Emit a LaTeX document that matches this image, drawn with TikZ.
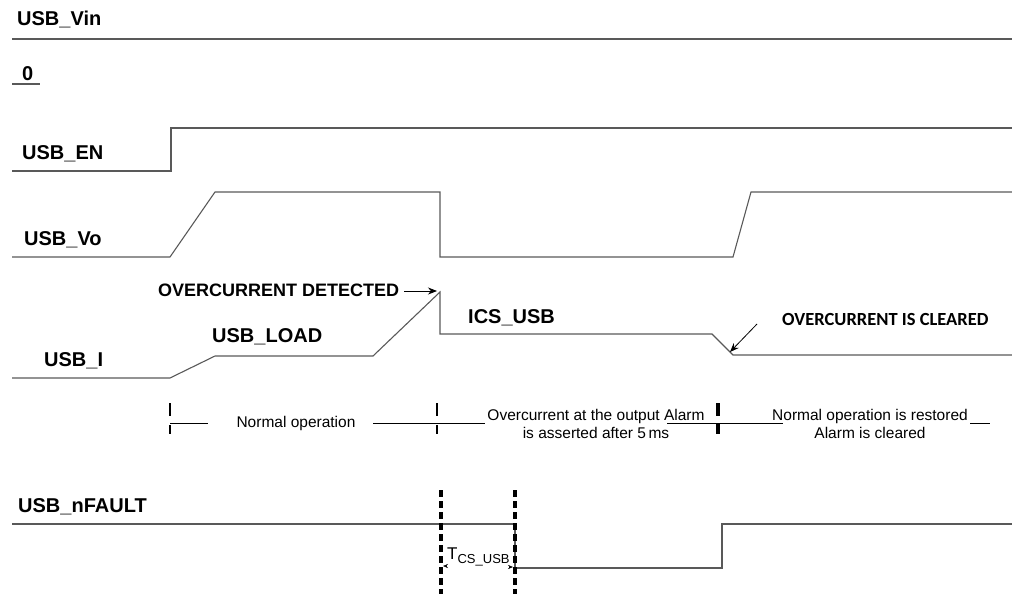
\documentclass[tikz,border=0pt]{standalone}
\usepackage{fontspec}
\usetikzlibrary{arrows.meta}
\setmainfont{Liberation Sans}
\newfontfamily\calibri{Carlito}
\begin{document}
\begin{tikzpicture}[x=1pt,y=-1pt,
  sig/.style={draw=black!65, line width=1.1pt},
  lbl/.style={font=\fontsize{20}{22}\selectfont\bfseries, anchor=base west, inner sep=0pt},
  note/.style={font=\fontsize{15.5}{18}\selectfont, align=center, inner sep=0pt},
  tick/.style={draw=black, line width=2pt},
  pointer/.style={-{Stealth[length=9pt,width=7pt]}, line width=0.8pt},
  gap/.style={dashed, line width=3.5pt, dash pattern=on 7pt off 4pt},
  every node/.style={align=center}]
  \useasboundingbox (0,0) rectangle (1012,594);
  % labels
  \node[lbl] (vin) at (17,26){USB\_Vin};
  \node[lbl] (zero) at (22,81){0};
  \node[lbl] (en) at (22,159){USB\_EN};
  \node[lbl] (vo) at (24,245){USB\_Vo};
  \node[lbl] (iusb) at (44,366){USB\_I};
  \node[lbl] (load) at (212,342){USB\_LOAD};
  \node[lbl] (ics) at (468,323){ICS\_USB};
  \node[lbl, font=\fontsize{18}{20}\selectfont\bfseries] (ocdet) at (158,296){OVERCURRENT DETECTED};
  \node[lbl, font=\fontsize{18.5}{20}\selectfont\bfseries\calibri] (occlr) at (782,325){OVERCURRENT IS CLEARED};
  \node[lbl] (nfault) at (18,512){USB\_nFAULT};
  % waveforms
  \draw[sig] (12,39) -- (1012,39);
  \draw[sig] (12,84) -- (40,84);
  \draw[sig] (12,171) -- (171,171) -- (171,128) -- (1012,128);
  \draw[sig] (12,257) -- (170,257) -- (215,192) -- (440,192) -- (440,257)
    -- (733,257) -- (751,192) -- (1012,192);
  \coordinate (peak) at (440,292);
  \coordinate (clr) at (733,355);
  \draw[sig] (12,378) -- (170,378) -- (215,356) -- (373,356) -- (peak)
    -- (440,334) -- (712,334) -- (clr) -- (1012,355);
  \draw[sig] (12,524) -- (515,524) -- (515,568) -- (722,568) -- (722,524) -- (1012,524);
  \draw[pointer] (ocdet.base east) ++(5,-5) -- (437,291);
  \coordinate (clrtail) at (757,324);
  \draw[pointer] (clrtail) -- (730,352);
  % phases
  \node[note] (normal) at (296,423){Normal operation};
  \node[note] (overc) at (596,424){Overcurrent at the output Alarm\\is asserted after 5\,ms};
  \node[note] (restored) at (870,424){Normal operation is restored\\Alarm is cleared};
  \draw (170,423) -- (208,423);
  \draw (373,423) -- (485,423);
  \draw (667,423) -- (783,423);
  \draw (970,423) -- (990,423);
  \foreach \x in {170,437}{
    \draw[tick] (\x,403) -- (\x,416);
    \draw[tick] (\x,425) -- (\x,434);
  }
  \draw[tick, line width=4pt] (718,403) -- (718,416);
  \draw[tick, line width=4pt] (718,423) -- (718,434);
  % tcs
  \draw[gap] (441,490) -- (441,594);
  \draw[gap] (515,490) -- (515,594);
  \node[anchor=base west, inner sep=0pt, font=\fontsize{17}{19}\selectfont] (tcs) at (447,559){T\raisebox{-0.5ex}{\fontsize{13}{15}\selectfont CS\_USB}};
  \draw[-{Stealth[length=5pt,width=4pt]}] (447,566) -- (443,566);
  \draw[-{Stealth[length=5pt,width=4pt]}] (509,567) -- (513,567);
\end{tikzpicture}
\end{document}
